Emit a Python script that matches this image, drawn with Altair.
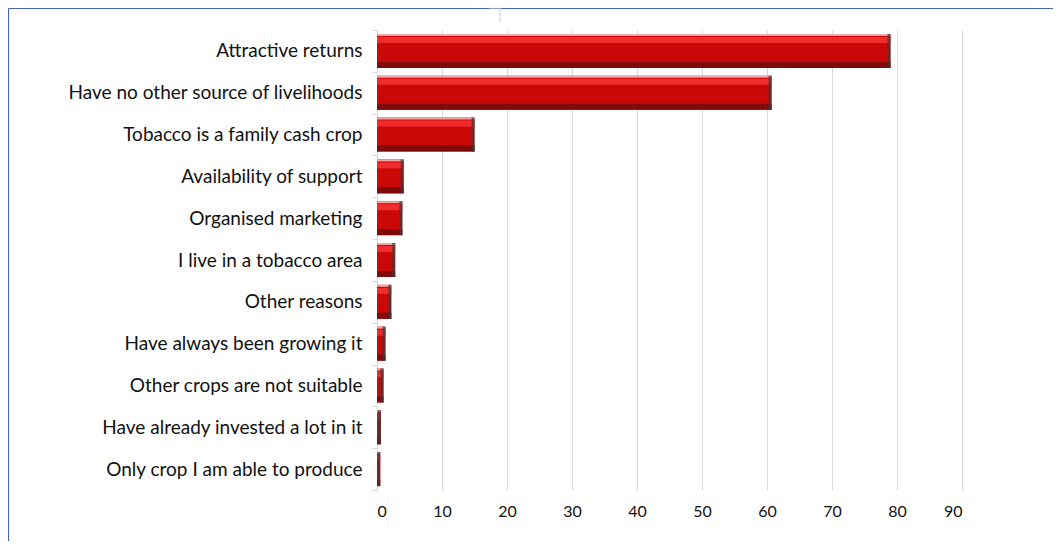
import altair as alt
import pandas as pd

categories = [
    "Attractive returns",
    "Have no other source of livelihoods",
    "Tobacco is a family cash crop",
    "Availability of support",
    "Organised marketing",
    "I live in a tobacco area",
    "Other reasons",
    "Have always been growing it",
    "Other crops are not suitable",
    "Have already invested a lot in it",
    "Only crop I am able to produce",
]
values = [79.0, 60.7, 15.0, 4.1, 3.9, 2.8, 2.2, 1.3, 1.0, 0.6, 0.5]
x_ticks = [0, 10, 20, 30, 40, 50, 60, 70, 80, 90]

df = pd.DataFrame({"reason": categories, "value": values})

W, H = 585, 460
PAD = {"left": 369, "top": 22, "right": 91, "bottom": 51}
FONT = "Lato"

y_enc = alt.Y(
    "reason:N",
    sort=categories,
    title=None,
    scale=alt.Scale(paddingInner=0, paddingOuter=0),
    axis=alt.Axis(
        labelFont=FONT,
        labelFontSize=19,
        labelColor="#111111",
        labelPadding=10,
        tickBand="extent",
        tickColor="#D9D9D9",
        tickSize=5,
        domainColor="#D9D9D9",
        grid=False,
        labelLimit=400,
    ),
)
x_enc = alt.X(
    "value:Q",
    title=None,
    scale=alt.Scale(domain=[0, 90], nice=False, zero=True),
    axis=alt.Axis(
        values=x_ticks,
        labelFont=FONT,
        labelFontSize=16,
        labelColor="#111111",
        labelPadding=13,
        ticks=False,
        domain=False,
        grid=True,
        gridColor="#D9D9D9",
        gridWidth=1,
    ),
)

ysub = alt.Y("reason:N", sort=categories)
base = alt.Chart(df)
main = base.mark_bar(height=34, color="#CA0808").encode(x=x_enc, y=y_enc)
top_edge = base.mark_bar(height=2, yOffset=-16, color="#F4A6A6").encode(x="value:Q", y=ysub)
highlight = base.mark_bar(height=6, yOffset=-11, color="#F22C2C").encode(x="value:Q", y=ysub)
shadow = base.mark_bar(height=6, yOffset=14, color="#7E0A0A").encode(x="value:Q", y=ysub)
cap = base.mark_tick(size=34, thickness=3, color="#3A3A3A", xOffset=-1.5).encode(x="value:Q", y=ysub)

one = pd.DataFrame({"a": [0]})
frame_left = alt.Chart(one).mark_rule(color="#4A66B0", strokeWidth=1.2).encode(
    x=alt.value(-368.5), y=alt.value(-21.5), y2=alt.value(H + PAD["bottom"])
)
frame_top = alt.Chart(one).mark_rule(color="#4A66B0", strokeWidth=1.2).encode(
    x=alt.value(-368.5), x2=alt.value(W + PAD["right"]), y=alt.value(-21.5)
)
small_tick = alt.Chart(one).mark_rule(color="#D0D0D0", strokeWidth=1).encode(
    x=alt.value(123), y=alt.value(-22), y2=alt.value(-7)
)
small_tick_h = alt.Chart(one).mark_rule(color="#D0D0D0", strokeWidth=1).encode(
    x=alt.value(112), x2=alt.value(123), y=alt.value(-22)
)

chart = (
    alt.layer(main, top_edge, highlight, shadow, cap, frame_left, frame_top, small_tick, small_tick_h)
    .properties(
        width=W,
        height=H,
        autosize=alt.AutoSizeParams(type="none"),
        padding=PAD,
        background="white",
    )
    .configure_view(stroke=None)
)

chart.save("out.html", embed_options={"renderer": "svg", "actions": False})
